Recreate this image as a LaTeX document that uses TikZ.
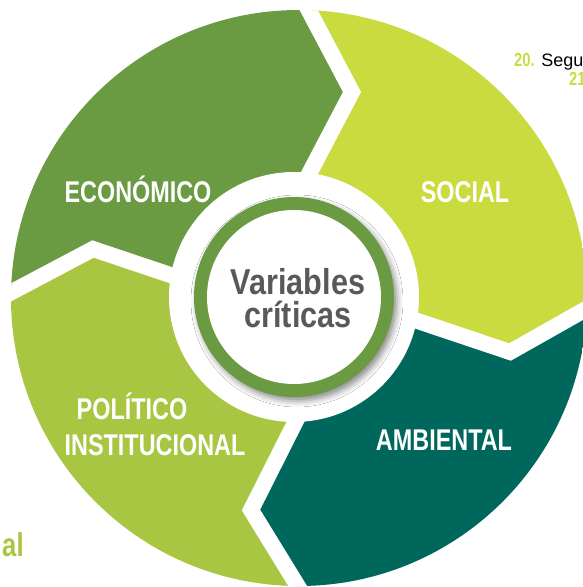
\documentclass[tikz,border=0pt]{standalone}
\usepackage{fontspec}
\setmainfont{Liberation Sans}
\newfontfamily\condfont[FakeStretch=0.78]{Liberation Sans}
\newfontfamily\centrefont[FakeStretch=0.85]{Liberation Sans}
\usetikzlibrary{shadows.blur}
\definecolor{econgreen}{HTML}{6A9A42}
\definecolor{socialgreen}{HTML}{C9DB3F}
\definecolor{ambteal}{HTML}{00675C}
\definecolor{polgreen}{HTML}{A9C642}
\definecolor{centregray}{HTML}{58595B}

\begin{document}
\begin{tikzpicture}[x=1pt, y=1pt,
    divider/.style={white, line width=16pt, line join=miter},
    segtext/.style={text=white, font=\condfont\bfseries\fontsize{30}{30}\selectfont, inner sep=0pt, anchor=base},
    fragment/.style={inner sep=0pt, anchor=base west}
]
\useasboundingbox (-299,-289) rectangle (283,298);

% corners of the four chevron dividers
\coordinate (tin) at (-11,84);  \coordinate (tpt) at (53,206);   \coordinate (tout) at (-11,327);
\coordinate (rin) at (68,-6);   \coordinate (rpt) at (211,-54);  \coordinate (rout) at (319,7);
\coordinate (bin) at (15,-87);  \coordinate (bpt) at (-48,-212); \coordinate (bout) at (22,-326);
\coordinate (lin) at (-75,5);   \coordinate (lpt) at (-206,49);  \coordinate (lout) at (-327,-15);

\begin{scope}
\clip (0,0) circle (288);
\fill[econgreen] (0,0) -- (tin) -- (tpt) -- (tout) -- (-400,400) -- (lout) -- (lpt) -- (lin) -- cycle;
\fill[polgreen] (0,0) -- (lin) -- (lpt) -- (lout) -- (-400,-400) -- (bout) -- (bpt) -- (bin) -- cycle;
\fill[ambteal] (0,0) -- (bin) -- (bpt) -- (bout) -- (400,-400) -- (rout) -- (rpt) -- (rin) -- cycle;
\fill[socialgreen] (0,0) -- (rin) -- (rpt) -- (rout) -- (400,400) -- (tout) -- (tpt) -- (tin) -- cycle;
\draw[divider] (tin) -- (tpt) -- (tout);
\draw[divider] (rin) -- (rpt) -- (rout);
\draw[divider] (bin) -- (bpt) -- (bout);
\draw[divider] (lin) -- (lpt) -- (lout);
\end{scope}

\fill[white] (-5,1) circle (125);
\fill[econgreen, blur shadow={shadow xshift=3pt, shadow yshift=-4pt, shadow blur radius=6pt, shadow opacity=45}] (-5,1) circle (100);
\fill[white] (-5,1) circle (87);
\node[font=\centrefont\bfseries\fontsize{36}{33}\selectfont, text=centregray, align=center] (centre) at (-1,0) {Variables\\críticas};

\node[segtext] (econ) at (-161,96) {ECONÓMICO};
\node[segtext] (social) at (166,96) {SOCIAL};
\node[segtext] (polit) at (-167,-121) {POLÍTICO};
\node[segtext] (instit) at (-144,-157) {INSTITUCIONAL};
\node[segtext] (ambient) at (145,-152) {AMBIENTAL};

\node[fragment, font=\fontsize{18}{18}\selectfont] (frag20) at (215,231) {{\condfont\bfseries\fontsize{19}{19}\selectfont\textcolor{socialgreen}{20.}} Segu};
\node[fragment, font=\condfont\bfseries\fontsize{19}{19}\selectfont, text=socialgreen] (frag21) at (270,213) {21};
\node[fragment, font=\condfont\bfseries\fontsize{33}{33}\selectfont, text=polgreen] (fragal) at (-297,-258) {al};
\end{tikzpicture}
\end{document}
